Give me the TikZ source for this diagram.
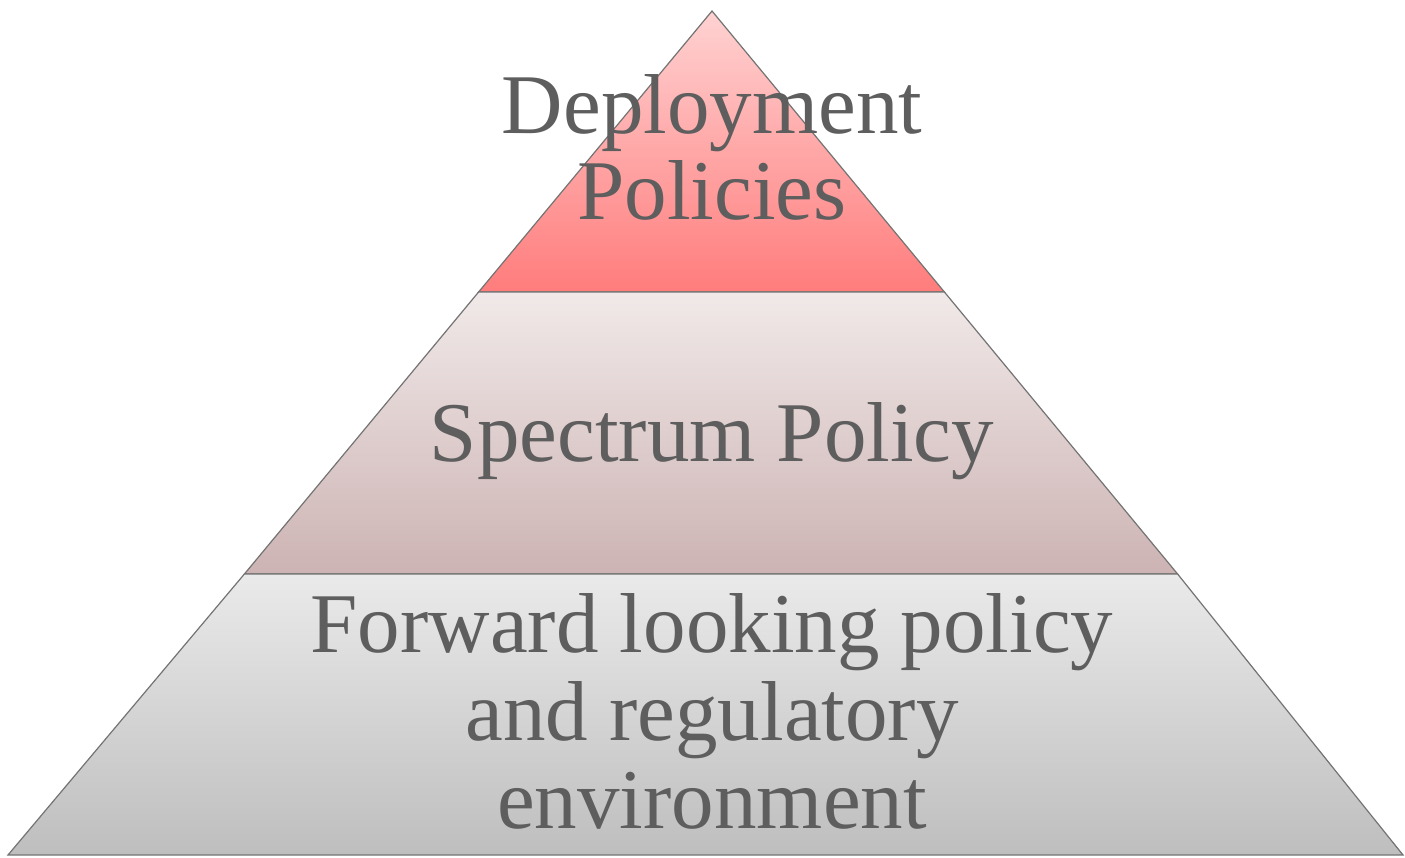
\documentclass[tikz,border=0pt]{standalone}
\usepackage{fontspec}
\setmainfont{Liberation Serif}
\begin{document}
\begin{tikzpicture}[x=1pt,y=-1pt,
  band/.style={draw=black!55,line width=1.2pt,line join=miter},
  lbl/.style={anchor=base,inner sep=0pt,text=txtgray,font=\fontsize{85}{88}\selectfont}]
\definecolor{txtgray}{HTML}{5E5E5E}
\definecolor{topA}{HTML}{FFD2D2}
\definecolor{topB}{HTML}{FF7C7C}
\definecolor{midA}{HTML}{F1E9E9}
\definecolor{midB}{HTML}{CDB3B3}
\definecolor{botA}{HTML}{EAEAEA}
\definecolor{botB}{HTML}{BEBEBE}
\useasboundingbox (0,0) rectangle (1405,857);
% apex (712,11), base (8,855)-(1403,855)
\coordinate (A) at (712,11);
\coordinate (L1) at (478.6,292);
\coordinate (R1) at (944.4,292);
\coordinate (L2) at (244.4,574);
\coordinate (R2) at (1177.6,574);
\coordinate (L3) at (8,855);
\coordinate (R3) at (1403,855);
\shade[top color=topA,bottom color=topB] (A) -- (R1) -- (L1) -- cycle;
\draw[band] (A) -- (R1) -- (L1) -- cycle;
\shade[top color=midA,bottom color=midB] (L1) -- (R1) -- (R2) -- (L2) -- cycle;
\draw[band] (L1) -- (R1) -- (R2) -- (L2) -- cycle;
\shade[top color=botA,bottom color=botB] (L2) -- (R2) -- (R3) -- (L3) -- cycle;
\draw[band] (L2) -- (R2) -- (R3) -- (L3) -- cycle;
% labels
\node[lbl] (t1) at (712,133) {Deployment};
\node[lbl] (t2) at (712,219) {Policies};
\node[lbl] (t3) at (712,461) {Spectrum Policy};
\node[lbl] (t4) at (712,652) {Forward looking policy};
\node[lbl] (t5) at (712,740) {and regulatory};
\node[lbl] (t6) at (712,828) {environment};
\end{tikzpicture}
\end{document}
